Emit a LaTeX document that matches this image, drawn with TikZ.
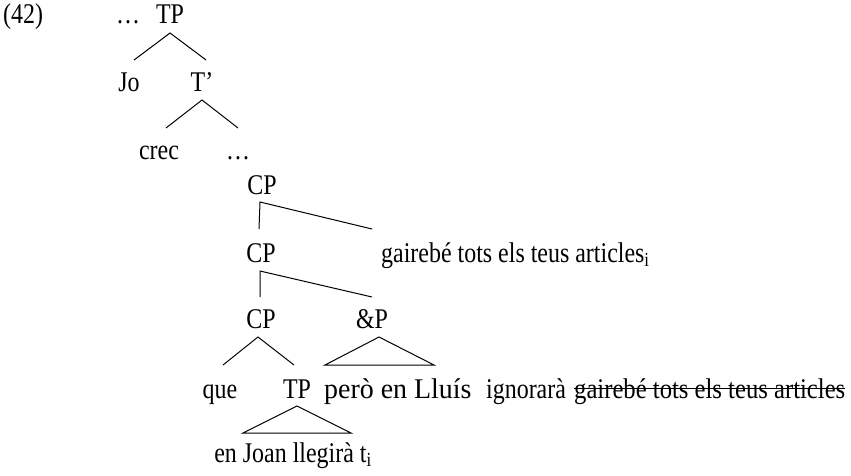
\documentclass[tikz,border=0pt]{standalone}
\usepackage{fontspec}
\setmainfont{Liberation Serif}[FakeStretch=0.84]
\newfontfamily\widefont{Liberation Serif}[FakeStretch=0.98]
\newfontfamily\midfont{Liberation Serif}[FakeStretch=0.865]
\usetikzlibrary{positioning}

\begin{document}
\begin{tikzpicture}[
    x=1pt, y=1pt,
    font=\fontsize{28.5}{32}\selectfont,
    lbl/.style={inner sep=0pt, anchor=base},
    lblw/.style={inner sep=0pt, anchor=base west},
    br/.style={line width=1pt},
  ]
  \useasboundingbox (0,0) rectangle (851,-476);
  \node[lblw] (num) at (3,-24) {(42)};
  \node[lbl] (dotsa) at (128,-24) {…};
  \node[lbl] (tpa) at (170,-24) {TP};
  \node[lbl] (jo) at (129,-92) {Jo};
  \node[lbl] (tbar) at (202,-92) {T’};
  \node[lbl] (crec) at (159,-160) {crec};
  \node[lbl] (dotsb) at (238,-160) {…};
  \node[lbl] (cpa) at (262,-194) {CP};
  \node[lbl] (cpb) at (261,-262) {CP};
  \node[lblw] (art) at (381,-262) {gairebé tots els teus articles\textsubscript{i}};
  \node[lbl] (cpc) at (261,-328) {CP};
  \node[lbl] (andp) at (372,-328) {\&P};
  \node[lbl] (que) at (220,-398) {que};
  \node[lbl] (tpb) at (297,-398) {TP};
  \node[lblw, font=\fontsize{28.5}{32}\widefont] (pero) at (324,-398) {però en Lluís};
  \node[lblw] (ign) at (486,-398) {ignorarà};
  \node[lblw, font=\fontsize{28.5}{32}\midfont] (struck) at (574,-398) {gairebé tots els teus articles};
  \node[lbl] (joan) at (293,-462) {en Joan llegirà t\textsubscript{i}};

  \draw[br] ([yshift=32pt,xshift=5pt]jo.base) -- ([yshift=-9pt]tpa.base) -- ([yshift=32pt,xshift=4pt]tbar.base);
  \draw[br] ([yshift=32pt,xshift=7pt]crec.base) -- ([yshift=-8pt]tbar.base) -- ([yshift=32pt]dotsb.base);
  \draw[br] ([yshift=33pt,xshift=-2pt]cpb.base) -- ([yshift=-8pt,xshift=-2pt]cpa.base) -- ([yshift=33pt,xshift=-9pt]art.base west);
  \draw[br] ([yshift=31pt,xshift=-1pt]cpc.base) -- ([yshift=-9pt,xshift=-1pt]cpb.base) -- ([yshift=31pt]andp.base);
  \draw[br] ([yshift=33pt,xshift=3pt]que.base) -- ([yshift=-9pt,xshift=-3pt]cpc.base) -- ([yshift=33pt,xshift=-3pt]tpb.base);
  \draw[br] ([yshift=-9pt,xshift=7pt]andp.base) -- ++(-54,-28) -- ++(109,0) -- cycle;
  \draw[br] ([yshift=-8pt]tpb.base) -- ++(-54,-27) -- ++(108,0) -- cycle;
  \draw[br] ([yshift=10pt]struck.base west) -- ([yshift=10pt]struck.base east);
\end{tikzpicture}
\end{document}
